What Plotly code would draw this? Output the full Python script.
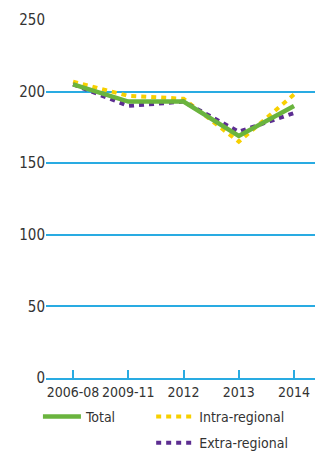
import plotly.graph_objects as go

categories = ["2006-08", "2009-11", "2012", "2013", "2014"]
total = [205, 193, 193, 169, 190]
intra = [207, 197, 195, 165, 198]
extra = [205, 190, 193, 172, 185]
y_ticks = [0, 50, 100, 150, 200, 250]

FONT = "DejaVu Sans Condensed, sans-serif"
BLUE = "#29abe2"
GREEN = "#6ab43e"
YELLOW = "#f7d000"
PURPLE = "#5c2d91"
TXT = "#333333"
FS = 14

fig = go.Figure()
fig.add_trace(go.Scatter(x=categories, y=intra, mode="lines", name="Intra-regional",
                         legendgroup="a",
                         line=dict(color=YELLOW, width=4, dash="5px,5px"), legend="legend2"))
fig.add_trace(go.Scatter(x=categories, y=extra, mode="lines", name="Extra-regional",
                         legendgroup="b",
                         line=dict(color=PURPLE, width=4, dash="5px,5px"), legend="legend2"))
fig.add_trace(go.Scatter(x=categories, y=total, mode="lines", name="Total",
                         line=dict(color=GREEN, width=4.5), legend="legend"))

fig.update_layout(
    width=315, height=452,
    margin=dict(l=46, r=0, t=20, b=74, autoexpand=False),
    paper_bgcolor="white", plot_bgcolor="white",
    font=dict(family=FONT, size=FS, color=TXT),
    xaxis=dict(type="category", range=[-0.49, 4.38], showgrid=False, zeroline=False,
               showline=True, linecolor=BLUE, linewidth=2, tickangle=0,
               ticks="inside", ticklen=8, tickwidth=2, tickcolor=BLUE,
               tickfont=dict(family=FONT, size=FS, color=TXT)),
    yaxis=dict(range=[0, 250], tickvals=y_ticks, showgrid=True, gridcolor=BLUE, gridwidth=1.5,
               zeroline=False, showline=False, ticks="",
               tickfont=dict(family=FONT, size=FS + 1, color=TXT)),
    legend=dict(x=-0.03, y=-0.064, xanchor="left", yanchor="top",
                orientation="v", bgcolor="rgba(0,0,0,0)", itemwidth=38,
                font=dict(family=FONT, size=FS, color=TXT), tracegroupgap=0),
    legend2=dict(x=0.391, y=-0.064, xanchor="left", yanchor="top",
                 orientation="v", bgcolor="rgba(0,0,0,0)", itemwidth=38, traceorder="grouped",
                 font=dict(family=FONT, size=FS, color=TXT), tracegroupgap=5),
    showlegend=True,
)

fig.write_html("out.html", post_script="document.body.style.margin='0';",
               config={"displayModeBar": False})
